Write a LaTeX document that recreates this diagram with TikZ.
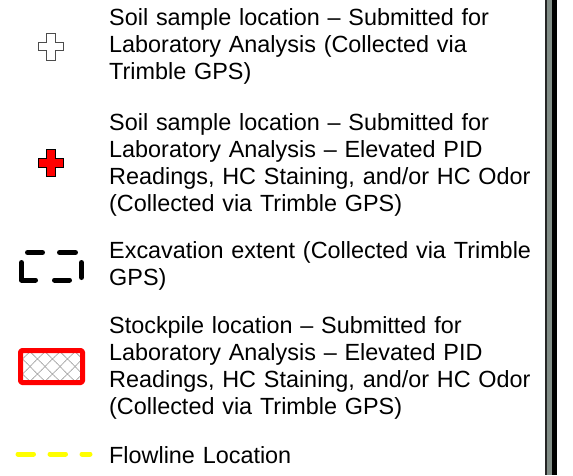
\documentclass[tikz,border=0pt]{standalone}
\usepackage{fontspec}
\setmainfont{Liberation Sans}
\begin{document}
\begin{tikzpicture}[line join=round, line cap=round, x=1pt, y=-1pt]
			\definecolor{framegray}{RGB}{128,140,134}
			\definecolor{flowyellow}{RGB}{255,255,0}
			\definecolor{samplered}{RGB}{255,0,0}
			\useasboundingbox (0,0) rectangle (573,475);
			
			\tikzset{legendtext/.style={anchor=base west, inner sep=0pt, text width=440pt, align=left, font={\fontsize{23.4}{27}\selectfont}}}
			\tikzset{cross/.pic={
					\def\C{
						%------------vien chu thap
						(-4.3,-13.5)--(4.3,-13.5)--(4.3,-4.2)--(12.5,-4.2)--(12.5,4.2)
						--(4.3,4.2)--(4.3,13.5)--(-4.3,13.5)--(-4.3,4.2)--(-12.5,4.2)
						--(-12.5,-4.2)--(-4.3,-4.2)--cycle
						;}
					\filldraw[line width=.9pt, line join=miter, pic actions] \C;
			}}
			
			%------------mau dat
			\path(51,46.5)pic[fill=white, draw=black!70]{cross};
			\node[legendtext] (soiltxt) at (109,25) {Soil sample location – Submitted for\\Laboratory Analysis (Collected via\\Trimble GPS)};
			
			%------------mau dat PID cao
			\path(51,163)pic[fill=samplered, draw=black]{cross};
			\node[legendtext] (elevtxt) at (109,130) {Soil sample location – Submitted for\\Laboratory Analysis – Elevated PID\\Readings, HC Staining, and/or HC Odor\\(Collected via Trimble GPS)};
			
			%------------ho dao
			\begin{scope}[line width=5pt]
				\draw (27.5,252.5)--(42.5,252.5) (59.5,252.5)--(75.5,252.5);
				\draw (81.5,262.5)--(81.5,277.5) (54.5,280)--(69.5,280);
				\draw (21.5,262.5)--(21.5,280)--(35.5,280);
			\end{scope}
			\node[legendtext] (excavtxt) at (109,258) {Excavation extent (Collected via Trimble\\GPS)};
			
			%------------dong dat
			\begin{scope}
				\clip (23,353) rectangle (80,380);
				\foreach \k in {-2,...,5}{
					\draw[gray!80, line width=.9pt, line cap=butt, dash pattern=on .9pt off .6pt] (30+15*\k-20,386.5)--++(40,-40);
					\draw[gray!80, line width=.9pt, line cap=butt, dash pattern=on .9pt off .6pt] (30+15*\k-20,346.5)--++(40,40);
				}
			\end{scope}
			\draw[samplered, line width=5pt, rounded corners=1.5pt] (20.5,350.5) rectangle (82.5,382.5);
			\node[legendtext] (stocktxt) at (109,333) {Stockpile location – Submitted for\\Laboratory Analysis – Elevated PID\\Readings, HC Staining, and/or HC Odor\\(Collected via Trimble GPS)};
			
			%------------duong ong
			\draw[flowyellow, line width=5pt, dash pattern=on 15.5pt off 16.5pt] (18,454)--(90,454);
			\node[legendtext] (flowtxt) at (109,463) {Flowline Location};
			
			%------------khung
			\fill[black!85] (545,0) rectangle (547,475);
			\fill[framegray] (547,0) rectangle (551.5,475);
			\fill[black] (551.5,0) rectangle (557,475);
		\end{tikzpicture}
\end{document}
